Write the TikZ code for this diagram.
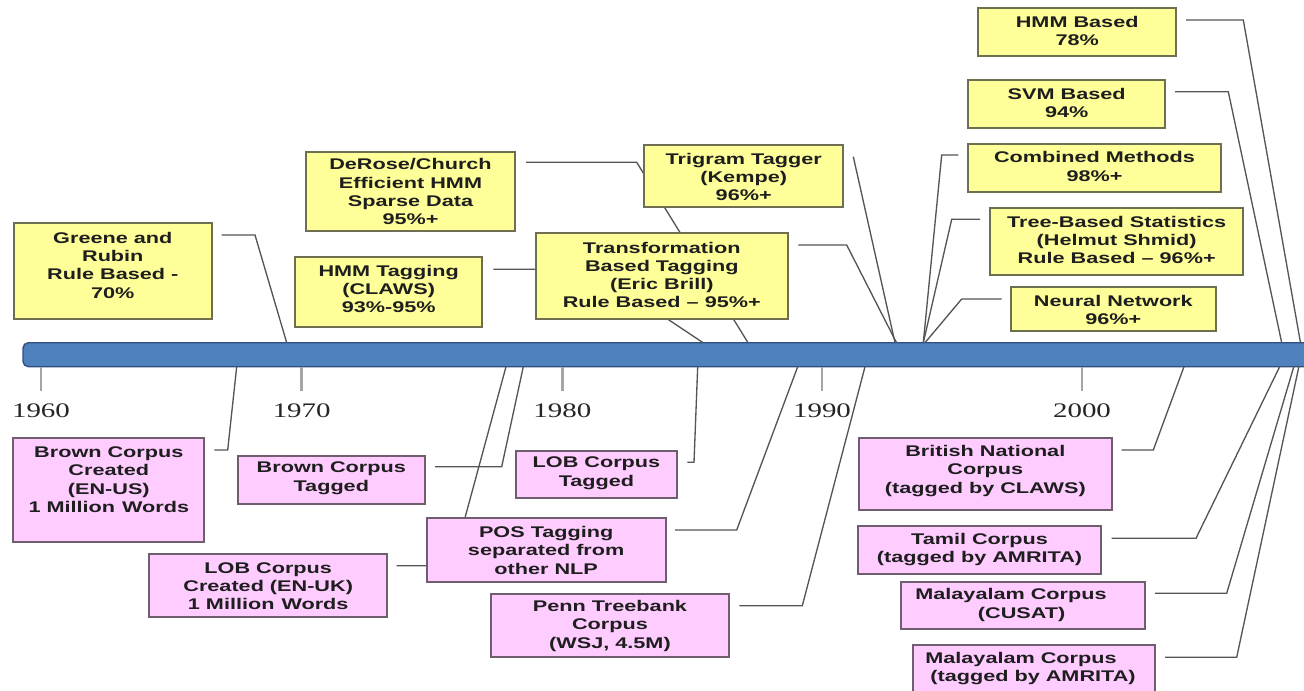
\documentclass[tikz,border=0pt]{standalone}
\usepackage{fontspec}
\newfontfamily\boxfont[FakeStretch=1.4]{Liberation Sans Bold}
\newfontfamily\yearfont[FakeStretch=1.4]{Liberation Serif}
\usetikzlibrary{fit}
\definecolor{ybg}{HTML}{FFFF99}
\definecolor{ybd}{HTML}{6E6E50}
\definecolor{pbg}{HTML}{FFCCFF}
\definecolor{pbd}{HTML}{6E5E6E}
\definecolor{barfill}{HTML}{4F81BD}
\definecolor{bardraw}{HTML}{2F4F7F}
\definecolor{conncol}{HTML}{555555}
\definecolor{tickcol}{HTML}{A5A5A5}
\definecolor{txtcol}{HTML}{1E1E1E}
\begin{document}
\begin{tikzpicture}[x=0.75pt,y=-0.75pt,
  ybox/.style={draw=ybd, fill=ybg, line width=1.3pt, inner sep=0pt},
  pbox/.style={draw=pbd, fill=pbg, line width=1.3pt, inner sep=0pt},
  txt/.style={font=\boxfont\fontsize{11.6}{13.7}\selectfont, align=center, inner sep=0pt, text=txtcol},
  connl/.style={draw=conncol, line width=1pt},
  ytick/.style={draw=tickcol, line width=2.2pt},
  yearlbl/.style={font=\yearfont\fontsize{15.5}{18}\selectfont, inner sep=0pt, text=black!85}]
\useasboundingbox (0,0) rectangle (1304,691);
\clip (0,0) rectangle (1304,691);
\fill[white] (0,0) rectangle (1304,691);

% timeline bar
\node[draw=bardraw, fill=barfill, rounded corners=4pt, line width=1pt, inner sep=0pt,
      fit={(23,342.7) (1330,366.7)}] (bar) {};

% ticks and years
\foreach \xx/\yy in {41/1960, 301.7/1970, 562.3/1980, 822/1990, 1082/2000}{
  \draw[ytick] (\xx,367.5) -- (\xx,390.7);
  \node[yearlbl] (y\yy) at (\xx,411) {\yy};
}

% connector anchor coordinates (top)
\coordinate (greene-s) at (221.7,235);   \coordinate (greene-e) at (286.7,342.7);
\coordinate (derose-s) at (526,162.3);   \coordinate (derose-e) at (748,342.7);
\coordinate (hmmtag-s) at (493.3,269.3); \coordinate (hmmtag-e) at (703,342.7);
\coordinate (trigram-s) at (853.3,156.7);\coordinate (trigram-e) at (895,342.7);
\coordinate (tbl-s) at (798.3,245);      \coordinate (tbl-e) at (896.5,342.7);
\coordinate (hmmb-s) at (1186,20);       \coordinate (hmmb-e) at (1300.5,342.7);
\coordinate (svm-s) at (1175,91.7);      \coordinate (svm-e) at (1281.7,342.7);
\coordinate (comb-s) at (958.3,155);     \coordinate (comb-e) at (923.3,342.7);
\coordinate (tree-s) at (980,219.3);     \coordinate (tree-e) at (923.3,342.7);
\coordinate (neural-s) at (1001.7,299);  \coordinate (neural-e) at (925,342.7);
% connector anchor coordinates (bottom)
\coordinate (bcc-s) at (214.3,450);      \coordinate (bcc-e) at (236.7,366.7);
\coordinate (bct-s) at (435,466.7);      \coordinate (bct-e) at (523.3,366.7);
\coordinate (lobc-s) at (396.7,565.7);   \coordinate (lobc-e) at (506,366.7);
\coordinate (pos-s) at (675,530);        \coordinate (pos-e) at (797.7,366.7);
\coordinate (lobt-s) at (687.3,462.3);   \coordinate (lobt-e) at (697.7,366.7);
\coordinate (penn-s) at (739.3,605.7);   \coordinate (penn-e) at (865,366.7);
\coordinate (bnc-s) at (1121.7,450);     \coordinate (bnc-e) at (1184,366.7);
\coordinate (tamil-s) at (1111.7,538.3); \coordinate (tamil-e) at (1280,366);
\coordinate (malc-s) at (1155,593.3);    \coordinate (malc-e) at (1294,366);
\coordinate (mala-s) at (1165,657.3);    \coordinate (mala-e) at (1299,366);

% connectors
\draw[connl] (greene-s) -- (255,235) -- (greene-e);
\draw[connl] (derose-s) -- (636.7,162.3) -- (derose-e);
\draw[connl] (hmmtag-s) -- (593,269.3) -- (hmmtag-e);
\draw[connl] (trigram-s) -- (trigram-e);
\draw[connl] (tbl-s) -- (846.7,245) -- (tbl-e);
\draw[connl] (hmmb-s) -- (1243.3,20) -- (hmmb-e);
\draw[connl] (svm-s) -- (1228.3,91.7) -- (svm-e);
\draw[connl] (comb-s) -- (941.7,155) -- (comb-e);
\draw[connl] (tree-s) -- (951.7,219.3) -- (tree-e);
\draw[connl] (neural-s) -- (961.7,299) -- (neural-e);

\draw[connl] (bcc-s) -- (227.7,450) -- (bcc-e);
\draw[connl] (bct-s) -- (501.7,466.7) -- (bct-e);
\draw[connl] (lobc-s) -- (452,565.7) -- (lobc-e);
\draw[connl] (pos-s) -- (736.7,530) -- (pos-e);
\draw[connl] (lobt-s) -- (694,462.3) -- (lobt-e);
\draw[connl] (penn-s) -- (802.3,605.7) -- (penn-e);
\draw[connl] (bnc-s) -- (1153.3,450) -- (bnc-e);
\draw[connl] (tamil-s) -- (1196,538.3) -- (tamil-e);
\draw[connl] (malc-s) -- (1226.7,593.3) -- (malc-e);
\draw[connl] (mala-s) -- (1236.7,657.3) -- (mala-e);

% yellow boxes (above the timeline)
\node[ybox, fit={(14,223.3) (211.7,319.3)}] (greene) {};
\node[txt] (greene-t) at (112.8,265.3) {Greene and\\Rubin\\Rule Based -\\70\%};
\node[ybox, fit={(306,152) (515,231)}] (derose) {};
\node[txt] (derose-t) at (410.5,191.7) {DeRose/Church\\Efficient HMM\\Sparse Data\\95\%+};
\node[ybox, fit={(295,257.3) (482.3,326.7)}] (hmmtag) {};
\node[txt] (hmmtag-t) at (388.7,289.2) {HMM Tagging\\(CLAWS)\\93\%-95\%};
\node[ybox, fit={(644,145) (843.3,207.3)}] (trigram) {};
\node[txt] (trigram-t) at (743.7,177.2) {Trigram Tagger\\(Kempe)\\96\%+};
\node[ybox, fit={(536,233.3) (787.7,319.3)}] (tbl) {};
\node[txt] (tbl-t) at (661.8,275) {Transformation\\Based Tagging\\(Eric Brill)\\Rule Based – 95\%+};
\node[ybox, fit={(978.3,8.3) (1176,56)}] (hmmb) {};
\node[txt] (hmmb-t) at (1077.2,31.3) {HMM Based\\78\%};
\node[ybox, fit={(968.3,80) (1165,127.7)}] (svm) {};
\node[txt] (svm-t) at (1066.7,103.2) {SVM Based\\94\%};
\node[ybox, fit={(968.3,144) (1220.7,191.7)}] (comb) {};
\node[txt] (comb-t) at (1094.5,166.5) {Combined Methods\\98\%+};
\node[ybox, fit={(990,207.7) (1243.3,275)}] (tree) {};
\node[txt] (tree-t) at (1116.7,240) {Tree-Based Statistics\\(Helmut Shmid)\\Rule Based – 96\%+};
\node[ybox, fit={(1011,287.3) (1215.7,331)}] (neural) {};
\node[txt] (neural-t) at (1113.3,310.2) {Neural Network\\96\%+};

% pink boxes (below the timeline)
\node[pbox, fit={(13.3,438.3) (204.3,542)}] (bcc) {};
\node[txt] (bcc-t) at (108.8,479.8) {Brown Corpus\\Created\\(EN-US)\\1 Million\hspace{0.45em}Words};
\node[pbox, fit={(237.7,455.7) (425,504)}] (bct) {};
\node[txt] (bct-t) at (331.3,478.3) {Brown Corpus\\Tagged};
\node[pbox, fit={(149,554) (387.3,617.3)}] (lobc) {};
\node[txt] (lobc-t) at (268.2,586.3) {LOB Corpus\\Created (EN-UK)\\1 Million\hspace{0.45em}Words};
\node[pbox, fit={(426.7,518.3) (665.7,581.7)}] (pos) {};
\node[txt] (pos-t) at (546.2,550.3) {POS Tagging\\separated from\\other NLP};
\node[pbox, fit={(515.7,450.7) (677.3,498.3)}] (lobt) {};
\node[txt] (lobt-t) at (596.5,473.3) {LOB Corpus\\Tagged};
\node[pbox, fit={(491,594) (729,657.3)}] (penn) {};
\node[txt] (penn-t) at (610,625.8) {Penn Treebank\\Corpus\\(WSJ, 4.5M)};
\node[pbox, fit={(859,438.3) (1111.7,510)}] (bnc) {};
\node[txt] (bnc-t) at (985.3,470.8) {British National\\Corpus\\(tagged by CLAWS)};
\node[pbox, fit={(858.3,526) (1100.7,574)}] (tamil) {};
\node[txt] (tamil-t) at (979.5,549.2) {Tamil Corpus\\(tagged by AMRITA)};
\node[pbox, fit={(901,581.7) (1145,629.3)}] (malc) {};
\node[txt] (malc-t) at (1011,605) {Malayalam Corpus\\\hspace*{16pt}(CUSAT)};
\node[pbox, fit={(912.7,645) (1155,694)}] (mala) {};
\node[txt] (mala-t) at (1021,668.5) {Malayalam Corpus\\\hspace*{18pt}(tagged by AMRITA)};
\end{tikzpicture}
\end{document}
